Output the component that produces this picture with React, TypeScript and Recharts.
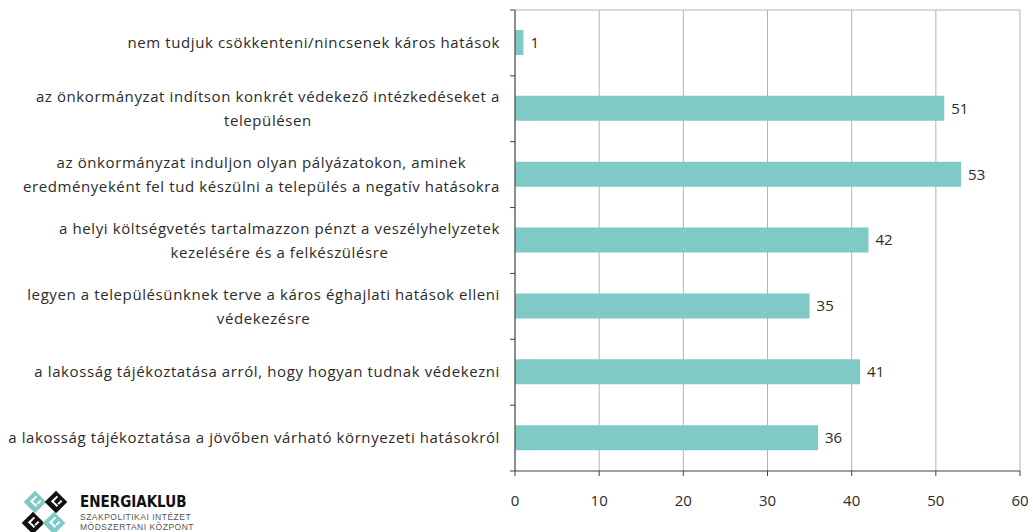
import React from "react";
import {
  BarChart,
  Bar,
  XAxis,
  YAxis,
  CartesianGrid,
  LabelList,
} from "recharts";

// categories, top to bottom (line breaks as in the original)
const categories = [
  "nem tudjuk csökkenteni/nincsenek káros hatások",
  "az önkormányzat indítson konkrét védekező intézkedéseket a\ntelepülésen",
  "az önkormányzat induljon olyan pályázatokon, aminek\neredményeként fel tud készülni a település a negatív hatásokra",
  "a helyi költségvetés tartalmazzon pénzt a veszélyhelyzetek\nkezelésére és a felkészülésre",
  "legyen a településünknek terve a káros éghajlati hatások elleni\nvédekezésre",
  "a lakosság tájékoztatása arról, hogy hogyan tudnak védekezni",
  "a lakosság tájékoztatása a jövőben várható környezeti hatásokról",
];
const values = [1, 51, 53, 42, 35, 41, 36];
const xTicks = [0, 10, 20, 30, 40, 50, 60];

const data = categories.map((c, i) => ({ name: c, value: values[i] }));

const W = 1033;
const H = 532;
const MARGIN = { top: 10, right: 13, left: 0, bottom: 21 };
const Y_WIDTH = 515;
const X_HEIGHT = 40;
const BAND = (H - MARGIN.top - MARGIN.bottom - X_HEIGHT) / categories.length;
const FONT = "15px 'Open Sans'";
const SPACING = 0.6;
const TEXT = "#2b2b2b";
const AXIS = "#404040";

let ctx: any = null;
function measure(s: string) {
  if (!ctx) ctx = document.createElement("canvas").getContext("2d");
  if (!ctx) return s.length * 7.7;
  ctx.font = FONT;
  ctx.letterSpacing = `${SPACING}px`;
  return ctx.measureText(s).width;
}

function CategoryTick(props: any) {
  const { y, payload, index } = props;
  const lines: string[] = String(payload.value).split("\n");
  const right = Y_WIDTH - 15;
  const block = Math.max(...lines.map(measure));
  const cx = right - block / 2;
  const lh = 24;
  const y0 = y - ((lines.length - 1) * lh) / 2;
  return (
    <g>
      <line x1={Y_WIDTH - 5} x2={Y_WIDTH} y1={y - BAND / 2} y2={y - BAND / 2} stroke={AXIS} />
      {index === categories.length - 1 && (
        <line x1={Y_WIDTH - 5} x2={Y_WIDTH} y1={y + BAND / 2} y2={y + BAND / 2} stroke={AXIS} />
      )}
      {lines.map((l, i) => (
        <text
          key={i}
          x={cx}
          y={y0 + i * lh}
          dy="0.35em"
          textAnchor="middle"
          fill={TEXT}
          style={{ font: FONT, letterSpacing: SPACING }}
        >
          {l}
        </text>
      ))}
    </g>
  );
}

function Logo() {
  const sq = (cx: number, cy: number, fill: string) => (
    <g transform={`translate(${cx} ${cy}) rotate(45)`}>
      <rect x={-8} y={-8} width={16} height={16} fill={fill} />
      <rect x={-4} y={-5} width={2} height={8} fill="#fff" />
      <rect x={-4} y={1} width={8} height={2} fill="#fff" />
      <rect x={2} y={-5} width={2} height={5} fill="#fff" />
    </g>
  );
  return (
    <svg width={220} height={72} style={{ position: "absolute", left: 0, top: 460 }}>
      {sq(35, 42, "#7fcac6")}
      {sq(56, 42, "#111")}
      {sq(33, 63, "#111")}
      {sq(54, 63, "#7fcac6")}
      <text x={80} y={47} fill="#111" style={{ font: "bold 15px 'DejaVu Sans Condensed', 'Liberation Sans'" }}>
        ENERGIAKLUB
      </text>
      <text x={80} y={60} fill="#555" style={{ font: "8.5px 'Liberation Sans'", letterSpacing: 0.5 }}>
        SZAKPOLITIKAI INTÉZET
      </text>
      <text x={80} y={70} fill="#555" style={{ font: "8.5px 'Liberation Sans'", letterSpacing: 0.5 }}>
        MÓDSZERTANI KÖZPONT
      </text>
    </svg>
  );
}

export default function App() {
  return (
    <div style={{ position: "absolute", left: 0, top: 0, width: W, height: H, background: "#fff", overflow: "hidden" }}>
      <BarChart
        width={W}
        height={H}
        data={data}
        layout="vertical"
        margin={MARGIN}
        barSize={25}
      >
        <CartesianGrid
          stroke="#b3b3b3"
          horizontalPoints={[MARGIN.top]}
          vertical
        />
        <XAxis
          type="number"
          domain={[0, 60]}
          ticks={xTicks}
          height={X_HEIGHT}
          stroke={AXIS}
          tickSize={5}
          tickMargin={19}
          tick={{ fill: TEXT, fontSize: 15, fontFamily: "'Open Sans'" }}
        />
        <YAxis
          type="category"
          dataKey="name"
          width={Y_WIDTH}
          stroke={AXIS}
          tickLine={false}
          interval={0}
          tick={<CategoryTick />}
        />
        <Bar dataKey="value" fill="#7fcac6" isAnimationActive={false}>
          <LabelList
            dataKey="value"
            position="right"
            offset={7}
            fill={TEXT}
            style={{ font: FONT }}
          />
        </Bar>
      </BarChart>
      <Logo />
    </div>
  );
}
